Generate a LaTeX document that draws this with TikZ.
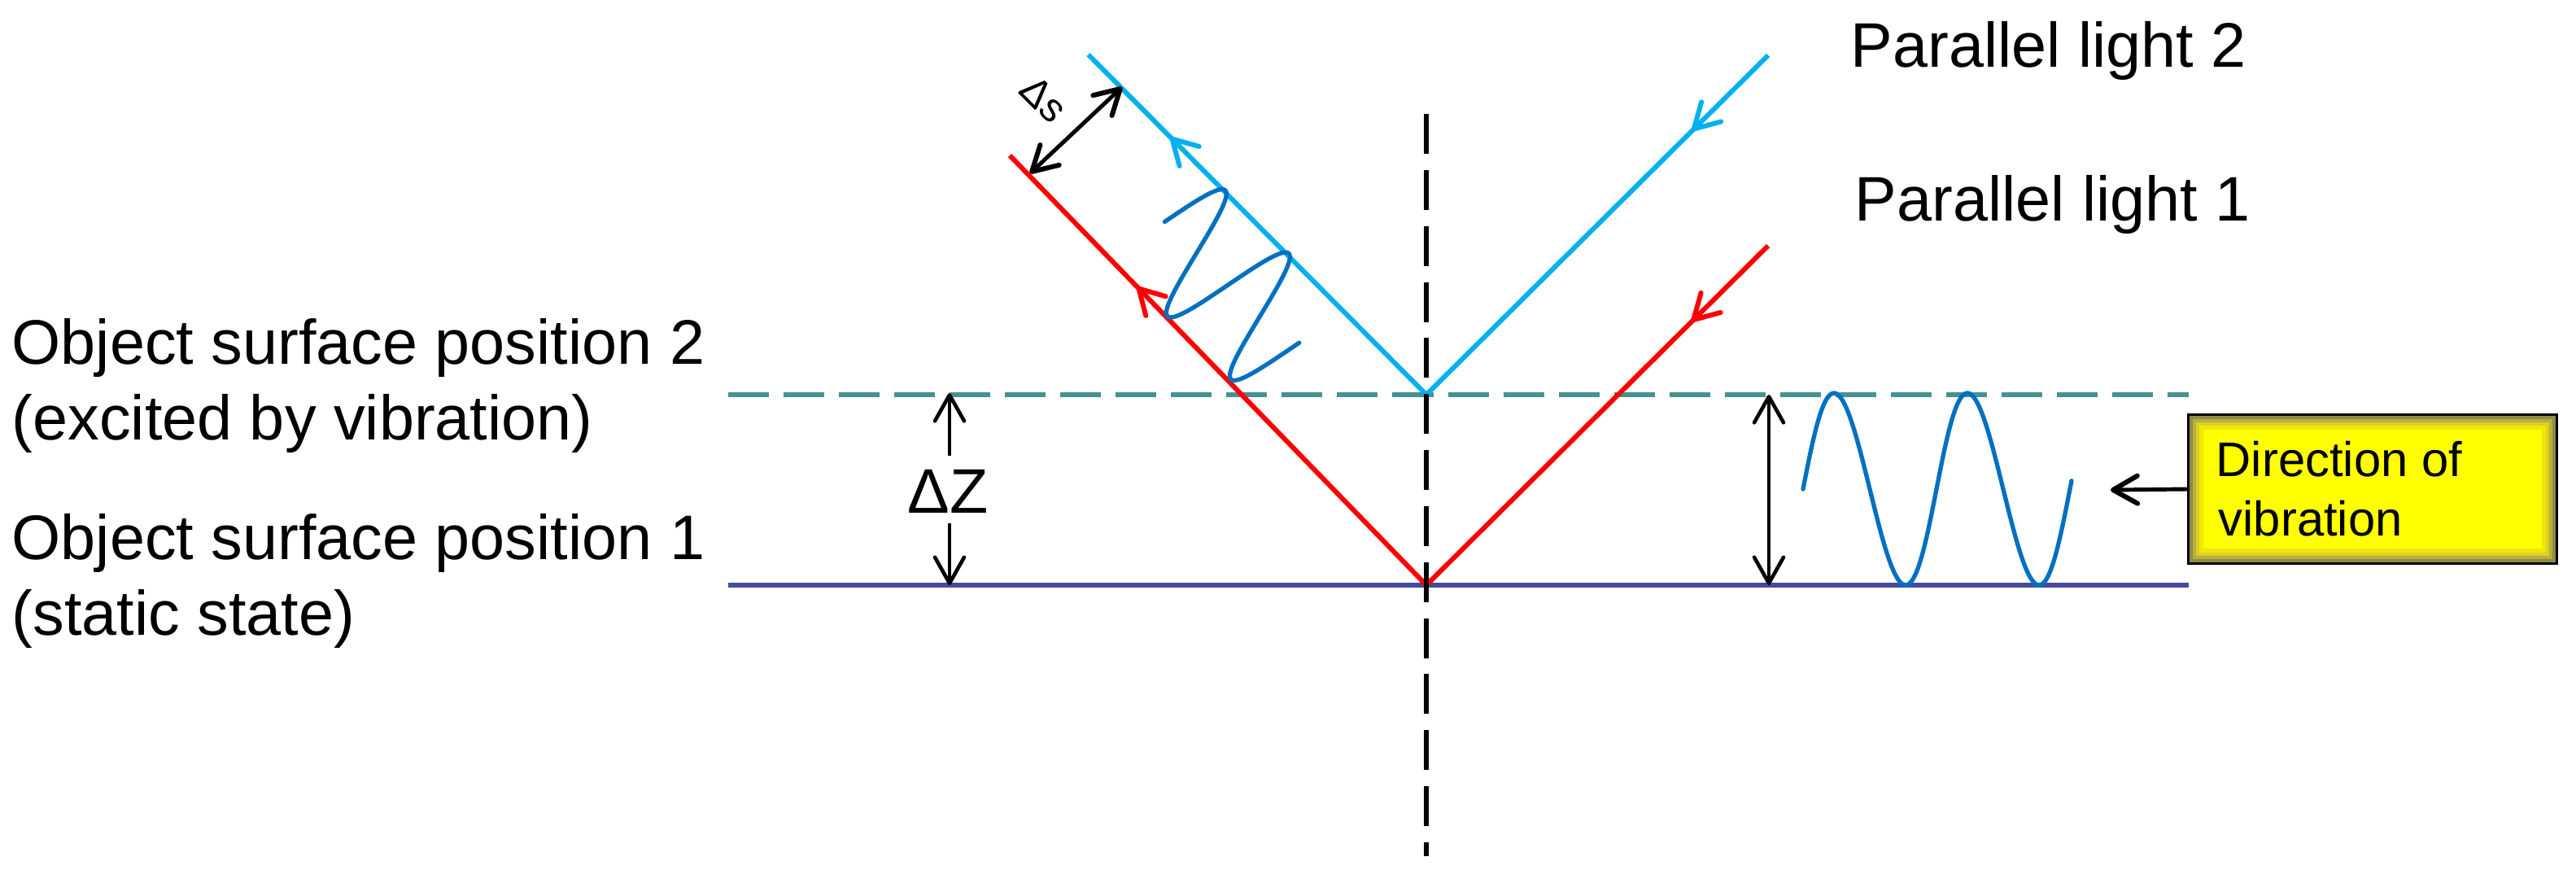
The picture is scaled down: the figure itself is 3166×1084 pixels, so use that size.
\documentclass[tikz,border=0pt]{standalone}
\usepackage{fontspec}
\setmainfont{Liberation Sans}
\usetikzlibrary{arrows.meta,decorations.markings}
\definecolor{beamcyan}{HTML}{00B0F0}
\definecolor{beamred}{HTML}{FF0000}
\definecolor{surftwo}{RGB}{70,145,145}
\definecolor{surfone}{RGB}{70,74,158}
\definecolor{wavecol}{HTML}{0070C0}
\definecolor{boxyellow}{HTML}{FFFF00}
\begin{document}
\begin{tikzpicture}[x=0.01cm,y=-0.01cm]
\tikzset{
  barbtip/.tip={Straight Barb[length=0.30cm,width=0.34cm,line width=1.7pt,round]},
  thinbarb/.tip={Straight Barb[length=0.32cm,width=0.36cm,line width=1.3pt,round]},
  beam/.style={line width=1.7pt},
  midarrow/.style={postaction={decorate,decoration={markings,mark=at position #1 with {\arrow{barbtip}}}}},
  lbl/.style={inner sep=0pt, anchor=base west, font=\fontsize{22}{26}\selectfont},
  boxlbl/.style={inner sep=0pt, anchor=base west, font=\fontsize{17}{20}\selectfont},
  wavepath/.style={draw=wavecol, line width=1.5pt, line join=round, line cap=round},
  blackarrow/.style={line width=1.4pt, draw=black},
  thinarrow/.style={line width=1.0pt, draw=black},
}
\fill[white] (0,0) rectangle (3166,1084);
\useasboundingbox (0,0) rectangle (3166,1084);

% coordinates
\coordinate (P1) at (1753,719);
\coordinate (P2) at (1753,485);
\coordinate (RL) at (1241,191);
\coordinate (RR) at (2173,302);
\coordinate (CL) at (1337.5,67);
\coordinate (CR) at (2173,68);
\coordinate (S2L) at (895,485);
\coordinate (S2R) at (2690,485);
\coordinate (S1L) at (895,719);
\coordinate (S1R) at (2690,719);
\coordinate (NT) at (1753,140);
\coordinate (NB) at (1753,1052);
\coordinate (dsA) at (1379,107);
\coordinate (dsB) at (1266,213);
\coordinate (dzT) at (1167,483);
\coordinate (dzB) at (1167,719);
\coordinate (dzU) at (1167,560);
\coordinate (dzD) at (1167,643);
\coordinate (amT) at (2174,485);
\coordinate (amB) at (2174,719);
\coordinate (vtip) at (2594,602);

% surfaces
\draw[surftwo, line width=1.6pt, dash pattern=on 0.5cm off 0.18cm] (S2L) -- (S2R);
\draw[surfone, line width=1.6pt] (S1L) -- (S1R);

% beams
\draw[beam, beamred, midarrow=0.0996, midarrow=0.8306] (RR) -- (P1) -- (RL);
\draw[beam, beamcyan, midarrow=0.1113, midarrow=0.8788] (CR) -- (P2) -- (CL);

% normal
\draw[black, line width=1.6pt, dash pattern=on 0.49cm off 0.198cm] (NT) -- (NB);

% waves
\draw[wavepath] plot[domain=0:728, samples=160] ({1431.4 + \x/360*78 + 55*sin(\x)}, {272.5 + \x/360*77.5 - 58*sin(\x)});
\draw[wavepath] plot[domain=0:725, samples=160] ({2216 + \x/360*164 - 3*sin(\x)}, {601 - 118*sin(\x)});

% delta s
\draw[blackarrow, {barbtip}-{barbtip}] (dsA) -- (dsB);
\node[inner sep=0pt, font=\fontsize{14}{16}\selectfont, rotate=-45] (dslbl) at (1283,122) {Δs};

% delta Z
\node[lbl, anchor=base] (dz) at (1165,630) {ΔZ};
\draw[thinarrow, -{thinbarb}] (dzU) -- (dzT);
\draw[thinarrow, -{thinbarb}] (dzD) -- (dzB);

% amplitude arrow
\draw[thinarrow, {thinbarb}-{thinbarb}] (amT) -- (amB);

% labels
\node[lbl] (pos2a) at (14,447) {Object surface position 2};
\node[lbl] (pos2b) at (14,540) {(excited by vibration)};
\node[lbl] (pos1a) at (14,687) {Object surface position 1};
\node[lbl] (pos1b) at (14,780) {(static state)};
\node[lbl] (pl2) at (2274,82) {Parallel light 2};
\node[lbl] (pl1) at (2279,271) {Parallel light 1};

% box
\node[draw=black, line width=1.4pt, fill=boxyellow, minimum width=4.5cm, minimum height=1.8cm, inner sep=0pt] (vbox) at (2916,601) {};
\foreach \k/\c in {5/50, 9/68, 13/84, 17/94} {
  \draw[yellow!\c!black, line width=0.045cm] ([shift={(\k,\k)}]vbox.north west) rectangle ([shift={(-\k,-\k)}]vbox.south east);
}
\node[boxlbl] (dir1) at (2723,585) {Direction of};
\node[boxlbl] (dir2) at (2726,658) {vibration};
\draw[blackarrow, -{barbtip}] (vbox.west) -- (vtip);
\end{tikzpicture}
\end{document}
